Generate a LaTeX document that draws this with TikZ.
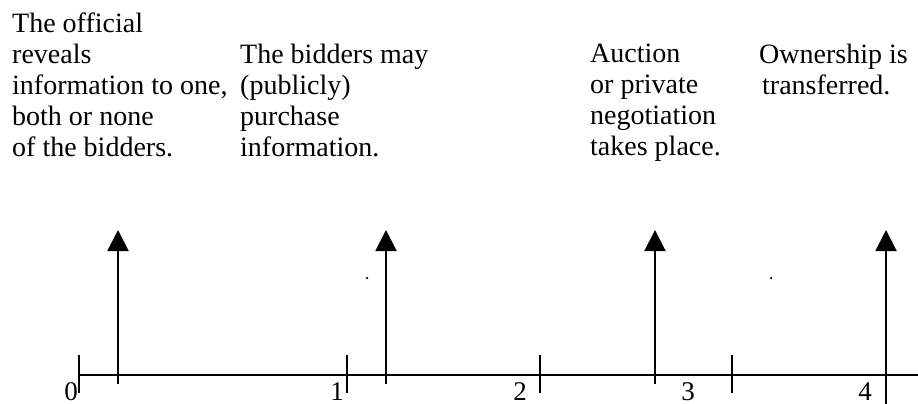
\documentclass[tikz,border=0pt]{standalone}
\usepackage{fontspec}
\setmainfont{Liberation Serif}
\usetikzlibrary{arrows.meta}
\begin{document}
\begin{tikzpicture}[x=1pt,y=-1pt,
  txt/.style={anchor=north west,inner sep=0pt,align=left,font=\fontsize{28}{31}\selectfont},
  num/.style={anchor=base,inner sep=0pt,text depth=0pt,font=\fontsize{27}{31}\selectfont},
  axisline/.style={line width=2pt},
  tickline/.style={line width=2pt},
  evarrow/.style={line width=2pt,-{Triangle[length=21pt,width=21pt]}},
  dotmark/.style={circle,fill=black,inner sep=0pt,minimum size=2.5pt}
]
\useasboundingbox (0,0) rectangle (918,404);
% texts (first baselines at y=32 and y=63)
\node[txt] (c1) at (12,12.9) {The official\\reveals\\information to one,\\both or none\\of the bidders.};
\node[txt] (c2) at (240,43.9) {The bidders may\\(publicly)\\purchase\\information.};
\node[txt] (c3) at (590,43.9) {Auction\\or private\\negotiation\\takes place.};
\node[txt] (c4) at (759,43.9) {Ownership is\\\hspace*{3pt}transferred.};
% axis
\coordinate (a0) at (79,375);
\coordinate (a1) at (918,375);
\draw[axisline] (a0) -- (a1);
% ticks
\foreach \n/\x in {0/79,1/347,2/540,3/732}{
  \coordinate (t\n a) at (\x,355);
  \coordinate (t\n b) at (\x,393);
  \draw[tickline] (t\n a) -- (t\n b);
}
% tick labels
\node[num] (n0) at (71,400) {0};
\node[num] (n1) at (337,400) {1};
\node[num] (n2) at (520,400) {2};
\node[num] (n3) at (688,400) {3};
\node[num] (n4) at (865,400) {4};
% event arrows
\foreach \n/\x/\y in {1/118/384,2/386/384,3/655/384,4/886/404}{
  \coordinate (e\n b) at (\x,\y);
  \coordinate (e\n t) at (\x,230);
  \draw[evarrow] (e\n b) -- (e\n t);
}
% stray dots
\node[dotmark] (d1) at (367,278) {};
\node[dotmark] (d2) at (771,278) {};
\end{tikzpicture}
\end{document}
